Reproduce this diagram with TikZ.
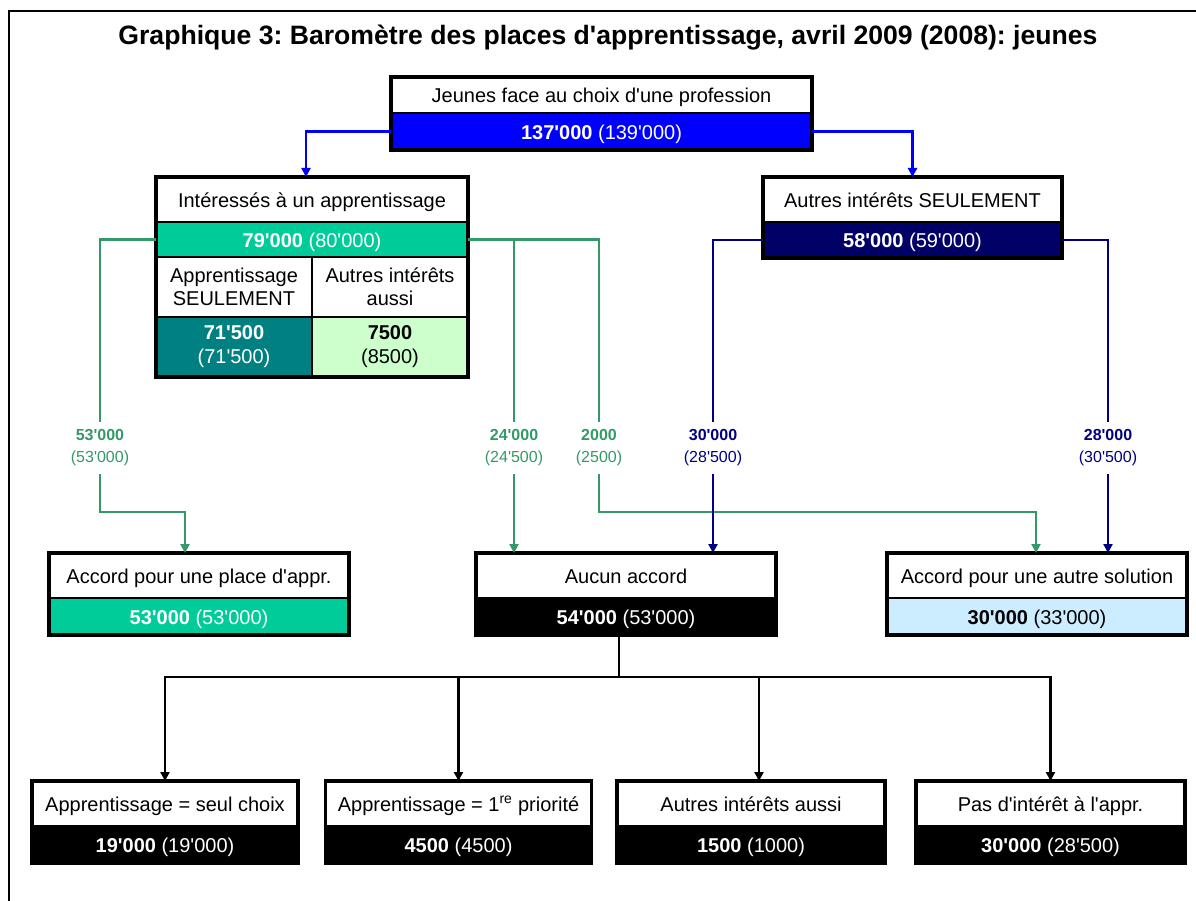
\documentclass[tikz,border=0pt]{standalone}
\usepackage{fontspec}
\newfontfamily\arial{Liberation Sans}
\usetikzlibrary{positioning,arrows.meta}
\frenchspacing
\definecolor{bleu}{HTML}{0000FF}
\definecolor{vertvif}{HTML}{00CC99}
\definecolor{sarcelle}{HTML}{008080}
\definecolor{vertpale}{HTML}{CCFFCC}
\definecolor{marine}{HTML}{000066}
\definecolor{marinelien}{HTML}{000080}
\definecolor{vertlien}{HTML}{339966}
\definecolor{bleupale}{HTML}{CCECFF}
\tikzset{
  titre/.style={draw=black, line width=1.2pt, fill=white, inner sep=0pt, outer sep=0pt,
    minimum height=45pt, align=center, font=\arial\fontsize{20}{23}\selectfont},
  ligne/.style={text height=17pt, text depth=1pt},
  valeur/.style={draw=black, line width=1.2pt, inner sep=0pt, outer sep=0pt,
    minimum height=37pt, text=white, align=center, font=\arial\fontsize{20}{24}\selectfont},
  cadre/.style={draw=black, line width=3.2pt},
  etiquette/.style={inner sep=0pt, minimum height=52pt, align=center,
    font=\arial\fontsize{16}{22}\selectfont},
  trait/.style={line width=2.2pt},
  lien/.style={line width=2.2pt, -{Triangle[length=9pt,width=9pt]}}
}
\begin{document}
\begin{tikzpicture}[x=1pt,y=-1pt]
\useasboundingbox (0,0) rectangle (1196,901);
\draw [line width=1.6pt] (9,901) -- (9,11) -- (1196,11);
\node [anchor=base, font=\arial\bfseries\fontsize{26.6}{30}\selectfont] (graphique) at (608,45)
  {Graphique 3: Baromètre des places d'apprentissage, avril 2009 (2008): jeunes};

% jeunes
\node [titre, ligne, minimum width=421pt, minimum height=36pt] (jeunes) at (601.5,95) {Jeunes face au choix d'une profession};
\node [valeur, ligne, minimum width=421pt, fill=bleu, below=0pt of jeunes] (jeunesv) {\textbf{137'000} (139'000)};
\draw [cadre] (jeunes.north west) rectangle (jeunesv.south east);

% interesses
\node [titre, ligne, minimum width=312pt] (inter) at (312,199.5) {Intéressés à un apprentissage};
\node [valeur, ligne, minimum width=312pt, minimum height=35pt, fill=vertvif, below=0pt of inter] (interv) {\textbf{79'000} (80'000)};
\node [titre, minimum width=156pt, minimum height=60pt, anchor=north west] (seulapp) at (interv.south west) {Apprentissage\\SEULEMENT};
\node [titre, minimum width=156pt, minimum height=60pt, anchor=north east] (aussi) at (interv.south east) {Autres intérêts\\aussi};
\node [valeur, minimum width=156pt, minimum height=60pt, fill=sarcelle, below=0pt of seulapp] (seulappv) {\textbf{71'500}\\(71'500)};
\node [valeur, minimum width=156pt, minimum height=60pt, fill=vertpale, text=black, below=0pt of aussi] (aussiv) {\textbf{7500}\\(8500)};
\draw [cadre] (inter.north west) rectangle (aussiv.south east);

% autres seulement
\node [titre, ligne, minimum width=299pt] (autres) at (912.5,199.5) {Autres intérêts SEULEMENT};
\node [valeur, ligne, minimum width=299pt, minimum height=36pt, fill=marine, below=0pt of autres] (autresv) {\textbf{58'000} (59'000)};
\draw [cadre] (autres.north west) rectangle (autresv.south east);

% accords
\node [titre, ligne, minimum width=300pt] (place) at (199,575.5) {Accord pour une place d'appr.};
\node [valeur, ligne, minimum width=300pt, fill=vertvif, below=0pt of place] (placev) {\textbf{53'000} (53'000)};
\draw [cadre] (place.north west) rectangle (placev.south east);
\node [titre, ligne, minimum width=300pt] (aucun) at (626,575.5) {Aucun accord};
\node [valeur, ligne, minimum width=300pt, fill=black, below=0pt of aucun] (aucunv) {\textbf{54'000} (53'000)};
\draw [cadre] (aucun.north west) rectangle (aucunv.south east);
\node [titre, ligne, minimum width=300pt] (solution) at (1037,575.5) {Accord pour une autre solution};
\node [valeur, ligne, minimum width=300pt, fill=bleupale, text=black, below=0pt of solution] (solutionv) {\textbf{30'000} (33'000)};
\draw [cadre] (solution.north west) rectangle (solutionv.south east);

% aucun accord, detail
\node [titre, ligne, minimum width=266pt] (seul) at (165,803.5) {Apprentissage = seul choix};
\node [valeur, ligne, minimum width=266pt, fill=black, below=0pt of seul] (seulv) {\textbf{19'000} (19'000)};
\draw [cadre] (seul.north west) rectangle (seulv.south east);
\node [titre, ligne, minimum width=266pt] (prio) at (458.5,803.5) {Apprentissage = 1\textsuperscript{re} priorité};
\node [valeur, ligne, minimum width=266pt, fill=black, below=0pt of prio] (priov) {\textbf{4500} (4500)};
\draw [cadre] (prio.north west) rectangle (priov.south east);
\node [titre, ligne, minimum width=268pt] (aussib) at (751,803.5) {Autres intérêts aussi};
\node [valeur, ligne, minimum width=268pt, fill=black, below=0pt of aussib] (aussibv) {\textbf{1500} (1000)};
\draw [cadre] (aussib.north west) rectangle (aussibv.south east);
\node [titre, ligne, minimum width=269pt] (pas) at (1050.5,803.5) {Pas d'intérêt à l'appr.};
\node [valeur, ligne, minimum width=269pt, fill=black, below=0pt of pas] (pasv) {\textbf{30'000} (28'500)};
\draw [cadre] (pas.north west) rectangle (pasv.south east);

% etiquettes
\node [etiquette, text=vertlien] (l53) at (100,448) {\textbf{53'000}\\(53'000)};
\node [etiquette, text=vertlien] (l24) at (514,448) {\textbf{24'000}\\(24'500)};
\node [etiquette, text=vertlien] (l2k) at (599,448) {\textbf{2000}\\(2500)};
\node [etiquette, text=marinelien] (l30) at (713,448) {\textbf{30'000}\\(28'500)};
\node [etiquette, text=marinelien] (l28) at (1108,448) {\textbf{28'000}\\(30'500)};
\coordinate (k53) at (185,512);
\coordinate (k2k) at (1036,512);
\coordinate (k0) at (619,677);

% liens
\draw [lien, bleu] (jeunesv.west) -| ([xshift=-6pt]inter.north);
\draw [lien, bleu] (jeunesv.east) -| (autres.north);
\draw [trait, vertlien] (interv.west) -| (l53.north);
\draw [lien, vertlien] (l53.south) |- (k53) -- (k53 |- place.north);
\draw [trait, vertlien] (interv.east) -| (l24.north);
\draw [trait, vertlien] (interv.east) -| (l2k.north);
\draw [lien, vertlien] (l24.south) -- (l24.south |- aucun.north);
\draw [lien, vertlien] (l2k.south) |- (k2k) -- (k2k |- solution.north);
\draw [trait, marinelien] (autresv.west) -| (l30.north);
\draw [trait, marinelien] (autresv.east) -| (l28.north);
\draw [lien, marinelien] (l30.south) -- (l30.south |- aucun.north);
\draw [lien, marinelien] (l28.south) -- (l28.south |- solution.north);
\draw [trait] (k0 |- aucunv.south) -- (k0);
\draw [lien] (k0) -| (seul.north);
\draw [lien] (k0) -| (prio.north);
\draw [lien] (k0) -| ([xshift=8pt]aussib.north);
\draw [lien] (k0) -| (pas.north);
\end{tikzpicture}
\end{document}
